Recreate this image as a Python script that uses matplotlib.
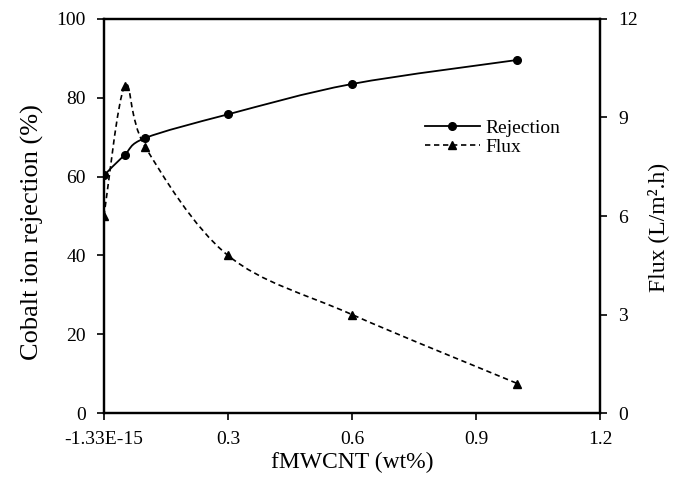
import numpy as np
import matplotlib.pyplot as plt
from matplotlib.path import Path
from matplotlib.patches import PathPatch
from matplotlib.lines import Line2D

plt.rcParams['font.family'] = 'Liberation Serif'

# data
conc = [0, 0.05, 0.1, 0.3, 0.6, 1.0]
rejection = [60.3, 65.5, 69.8, 75.8, 83.5, 89.6]
flux = [6.0, 9.95, 8.1, 4.8, 3.0, 0.9]
x_ticks = [0, 0.3, 0.6, 0.9, 1.2]
x_tick_labels = ['-1.33E-15', '0.3', '0.6', '0.9', '1.2']


def smooth_path(x, y):
    # excel-like smoothed line: cubic bezier segments through the points
    p = np.column_stack([x, y]).astype(float)
    n = len(p)
    verts = [p[0]]
    codes = [Path.MOVETO]
    for i in range(n - 1):
        p0 = p[i - 1] if i > 0 else p[i]
        p3 = p[i + 2] if i + 2 < n else p[i + 1]
        c1 = p[i] + (p[i + 1] - p0) / 6
        c2 = p[i + 1] - (p3 - p[i]) / 6
        verts += [c1, c2, p[i + 1]]
        codes += [Path.CURVE4] * 3
    return Path(verts, codes)


fig = plt.figure(figsize=(6.75, 4.86), dpi=100)
ax = fig.add_axes([0.154, 0.150, 0.735, 0.811])
ax2 = ax.twinx()

ax.add_patch(PathPatch(smooth_path(conc, rejection), fill=False, color='black', lw=1.3))
ax.plot(conc, rejection, 'o', color='black', ms=5.5)

ax2.add_patch(PathPatch(smooth_path(conc, flux), fill=False, color='black', lw=1.2,
                        linestyle=(0, (3.2, 2.2))))
ax2.plot(conc, flux, '^', color='black', ms=5.5)

ax.set_xlim(0, 1.2)
ax.set_ylim(0, 100)
ax2.set_ylim(0, 12)
ax.set_xticks(x_ticks)
ax.set_xticklabels(x_tick_labels)
ax.set_yticks(np.arange(0, 101, 20))
ax2.set_yticks(np.arange(0, 13, 3))

for a in (ax, ax2):
    for s in a.spines.values():
        s.set_linewidth(1.6)
    a.tick_params(labelsize=14, width=1.2, length=5, direction='out', pad=8)

ax.set_xlabel('fMWCNT (wt%)', fontsize=17, labelpad=3)
ax.set_ylabel('Cobalt ion rejection (%)', fontsize=19, labelpad=6)
ax.yaxis.set_label_coords(-0.12, 0.46)
ax2.set_ylabel('Flux (L/m².h)', fontsize=17, labelpad=8)
ax2.yaxis.set_label_coords(1.095, 0.47)

handles = [Line2D([], [], color='black', lw=1.3, marker='o', ms=5.5),
           Line2D([], [], color='black', lw=1.2, ls=(0, (3.2, 2.2)), marker='^', ms=5.5)]
ax.legend(handles, ['Rejection', 'Flux'], frameon=False, fontsize=14,
          loc='upper left', bbox_to_anchor=(0.628, 0.77), handlelength=2.8,
          handletextpad=0.3, labelspacing=0.05, borderpad=0)

fig.savefig('out.png', dpi=100)
